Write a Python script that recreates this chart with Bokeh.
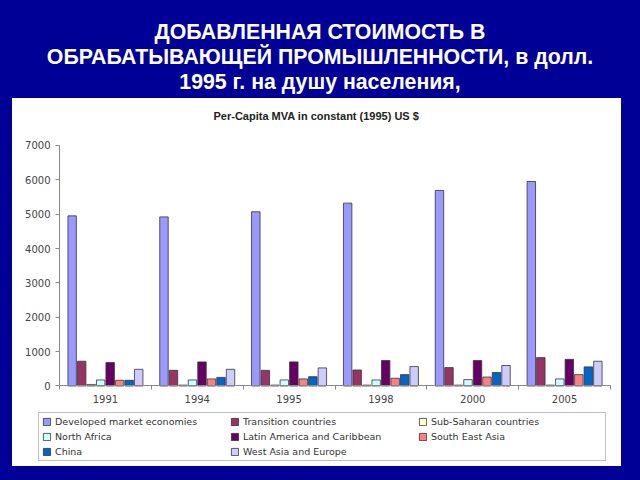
from bokeh.plotting import figure
from bokeh.models import ColumnDataSource, Range1d, FixedTicker, Legend, LegendItem, Div
from bokeh.layouts import column
from bokeh.transform import dodge
from bokeh.embed import file_html
from bokeh.resources import INLINE

# ---------------- data ----------------
title_lines = ["ДОБАВЛЕННАЯ СТОИМОСТЬ В",
               "ОБРАБАТЫВАЮЩЕЙ ПРОМЫШЛЕННОСТИ, в долл.",
               "1995 г. на душу населения,"]
chart_title = "Per-Capita MVA in constant (1995) US $"
years = ["1991", "1994", "1995", "1998", "2000", "2005"]
y_ticks = [0, 1000, 2000, 3000, 4000, 5000, 6000, 7000]

series_names = [
    "Developed market economies", "Transition countries", "Sub-Saharan countries",
    "North Africa", "Latin America and Caribbean", "South East Asia",
    "China", "West Asia and Europe",
]
developed = [4950, 4920, 5070, 5320, 5690, 5950]
transition = [720, 455, 455, 465, 535, 825]
sub_saharan = [45, 25, 25, 25, 25, 25]
north_africa = [175, 175, 175, 175, 185, 205]
latin_america = [680, 700, 700, 740, 740, 775]
south_east_asia = [165, 205, 205, 225, 260, 330]
china = [165, 250, 270, 330, 390, 555]
west_asia = [485, 485, 525, 565, 595, 720]
series_values = [developed, transition, sub_saharan, north_africa,
                 latin_america, south_east_asia, china, west_asia]
colors = ["#9999FF", "#993366", "#FFFFCC", "#CCFFFF",
          "#660066", "#FF8080", "#0066CC", "#CCCCFF"]

BLUE = "#000096"
FONT = "DejaVu Sans"

# ---------------- layout constants (pixels inside the white panel) ----------------
PANEL_W, PANEL_H = 609, 368
FRAME_TOP = 30        # top of the plotting frame
MAX_Y = 45            # row of the top tick (7000)
ZERO_Y = 287          # row of value 0
AX_L, AX_R = 47, 598  # columns of the category axis ends

# ---------------- title ----------------
title_div = Div(
    text="<div style='padding-top:20px'>" + "<br>".join(title_lines) + "</div>",
    width=640, height=98, margin=0,
    styles={"color": "white", "font-family": "'Liberation Sans', Arial, sans-serif",
            "font-weight": "bold", "font-size": "21.3px", "line-height": "25px",
            "text-align": "center", "width": "640px"},
)

# ---------------- chart figure ----------------
n = len(years)
y_max = y_ticks[-1]
ppu_y = (ZERO_Y - MAX_Y) / y_max
ppu_x = (AX_R - AX_L) / n
x_start = -AX_L / ppu_x
x_end = n + (PANEL_W - AX_R) / ppu_x
y_start = -(PANEL_H - ZERO_Y) / ppu_y
y_end = y_max + (MAX_Y - FRAME_TOP) / ppu_y

src_data = {"x": [i + 0.5 for i in range(n)]}
keys = []
for k, vals in enumerate(series_values):
    key = f"s{k}"
    keys.append(key)
    src_data[key] = vals
src = ColumnDataSource(src_data)

p = figure(width=PANEL_W, height=PANEL_H, x_range=Range1d(x_start, x_end),
           y_range=Range1d(y_start, y_end),
           output_backend="svg", toolbar_location=None,
           min_border_left=0, min_border_right=0, min_border_top=FRAME_TOP, min_border_bottom=0,
           background_fill_color="white", border_fill_color="white", outline_line_color=None,
           margin=(0, 19, 14, 12), styles={"background-color": "white"})
p.grid.visible = False

slot = 0.1035
bar_w = 0.092
renderers = []
for k, key in enumerate(keys):
    off = (k - (len(keys) - 1) / 2) * slot
    r = p.vbar(x=dodge("x", off, range=p.x_range), top=key, width=bar_w, bottom=0,
               source=src, fill_color=colors[k], line_color="#333333", line_width=0.8)
    renderers.append(r)

p.title.text = chart_title
p.title.align = "left"
p.title.offset = 201
p.title.vertical_align = "bottom"
p.title.standoff = 18
p.title.text_font = "Liberation Sans"
p.title.text_font_style = "bold"
p.title.text_font_size = "11px"
p.title.text_color = "#222222"

AX = "#888888"
LAB = "#444444"
xa = p.xaxis[0]
xa.fixed_location = 0
xa.bounds = (0, n)
xa.ticker = FixedTicker(ticks=src_data["x"], minor_ticks=list(range(n + 1)))
xa.major_label_overrides = {src_data["x"][i]: years[i] for i in range(n)}
xa.major_tick_line_color = None
xa.minor_tick_in = 0
xa.minor_tick_out = 4
xa.minor_tick_line_color = AX
xa.axis_line_color = AX
xa.major_label_text_font = FONT
xa.major_label_text_font_size = "10px"
xa.major_label_text_color = LAB
xa.major_label_standoff = 3

ya = p.yaxis[0]
ya.fixed_location = 0
ya.bounds = (0, y_max)
ya.ticker = FixedTicker(ticks=y_ticks)
ya.major_tick_in = 0
ya.major_tick_out = 4
ya.minor_tick_line_color = None
ya.major_tick_line_color = AX
ya.axis_line_color = AX
ya.major_label_text_font = FONT
ya.major_label_text_font_size = "10px"
ya.major_label_text_color = LAB
ya.major_label_standoff = 5

legend = Legend(
    items=[LegendItem(label=series_names[k], renderers=[renderers[k]]) for k in range(len(keys))],
    ncols=3, orientation="horizontal", location=(26, 5), margin=0, padding=3, spacing=4,
    label_height=11, glyph_height=9, glyph_width=9, label_standoff=4, label_width=171,
    border_line_color="#808080", border_line_width=1, background_fill_color="white",
    label_text_font=FONT, label_text_font_size="9.5px", label_text_color="#333333",
)
p.add_layout(legend, "center")

layout = column(title_div, p, spacing=0, width=640, height=480,
                styles={"background-color": BLUE})

open("out.html", "w").write(file_html(layout, INLINE))
